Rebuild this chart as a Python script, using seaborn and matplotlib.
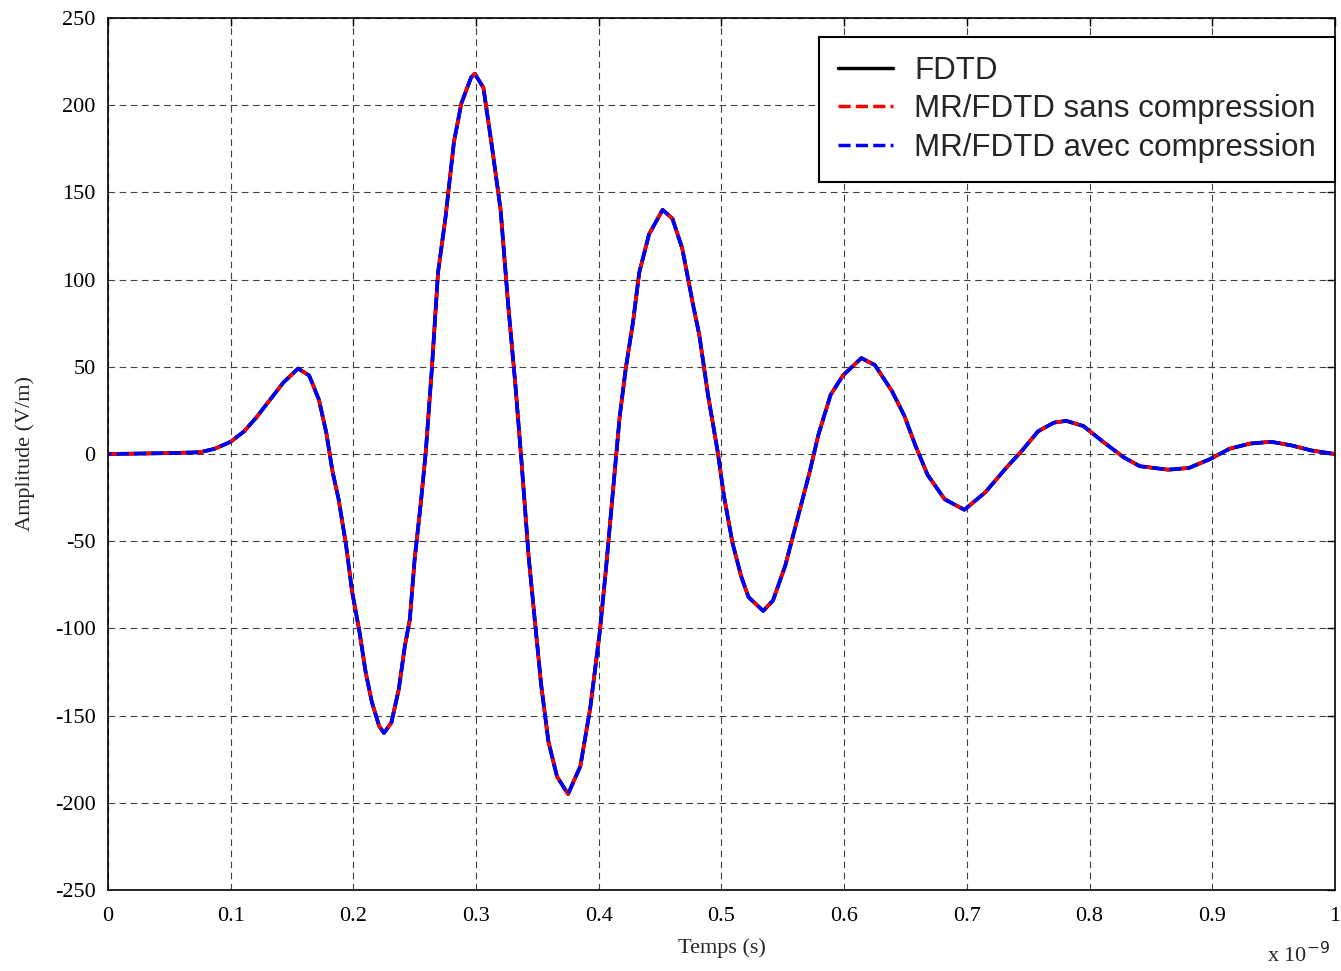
import numpy as np
import pandas as pd
import seaborn as sns
import matplotlib.pyplot as plt
from matplotlib.lines import Line2D

# temps en ns (axe affiché en x 10^-9 s)
temps_ns = [0.0, 0.05, 0.075, 0.087, 0.1, 0.111, 0.121, 0.132, 0.143, 0.155,
            0.164, 0.172, 0.178, 0.183, 0.188, 0.194, 0.199, 0.205, 0.210, 0.215,
            0.221, 0.225, 0.231, 0.237, 0.242, 0.246, 0.250, 0.255, 0.259, 0.264,
            0.269, 0.275, 0.282, 0.288, 0.296, 0.299, 0.306, 0.313, 0.320, 0.326,
            0.332, 0.337, 0.343, 0.348, 0.353, 0.359, 0.366, 0.375, 0.385, 0.393,
            0.401, 0.406, 0.412, 0.417, 0.422, 0.428, 0.433, 0.441, 0.452, 0.460,
            0.468, 0.477, 0.482, 0.489, 0.497, 0.502, 0.509, 0.516, 0.522, 0.534,
            0.542, 0.552, 0.562, 0.572, 0.579, 0.589, 0.599, 0.614, 0.625, 0.639,
            0.649, 0.658, 0.668, 0.682, 0.698, 0.715, 0.732, 0.745, 0.758, 0.771,
            0.781, 0.795, 0.811, 0.828, 0.841, 0.864, 0.881, 0.898, 0.914, 0.931,
            0.948, 0.964, 0.981, 1.0]

amp_fdtd = [0, 0.5, 1, 3, 7, 13, 21, 31, 41, 49,
            45, 31, 12, -10, -26, -52, -79, -102, -125, -142,
            -156, -160, -154, -135, -110, -95, -60, -28, 1, 49,
            104, 135, 179, 201, 216, 218, 210, 176, 140, 87,
            40, -4, -60, -96, -132, -165, -185, -195, -179, -146,
            -101, -65, -18, 21, 49, 76, 104, 126, 140, 135,
            118, 85, 68, 34, 1, -24, -51, -70, -82, -90,
            -84, -64, -37, -10, 11, 34, 45, 55, 51, 36,
            22, 5, -12, -26, -32, -22, -8, 2, 13, 18,
            19, 16, 7, -2, -7, -9, -8, -3, 3, 6,
            7, 5, 2, 0]

# les trois courbes se superposent sur la figure
amp_sans = list(amp_fdtd)
amp_avec = list(amp_fdtd)

labels = ['FDTD', 'MR/FDTD sans compression', 'MR/FDTD avec compression']
colors = ['black', 'red', 'blue']

df = pd.DataFrame({'t': temps_ns, 'fdtd': amp_fdtd, 'sans': amp_sans, 'avec': amp_avec})

sns.set_style('white')
plt.rcParams['font.family'] = ['Liberation Serif', 'DejaVu Serif']
plt.rcParams['axes.unicode_minus'] = False

fig = plt.figure(figsize=(13.41, 9.71), dpi=100)
ax = fig.add_axes([0.0805, 0.0834, 0.9150, 0.8981])

sns.lineplot(data=df, x='t', y='fdtd', ax=ax, color=colors[0], lw=2.7, legend=False)
sns.lineplot(data=df, x='t', y='sans', ax=ax, color=colors[1], lw=2.5,
             linestyle=(0, (3.5, 1.5)), legend=False)
sns.lineplot(data=df, x='t', y='avec', ax=ax, color=colors[2], lw=2.5,
             linestyle=(2.5, (3.5, 1.5)), legend=False)

ax.set_xlim(0, 1)
ax.set_ylim(-250, 250)
ax.set_xticks(np.arange(0, 1.01, 0.1))
ax.set_xticklabels(['0', '0.1', '0.2', '0.3', '0.4', '0.5', '0.6', '0.7', '0.8', '0.9', '1'])
ax.set_yticks(np.arange(-250, 251, 50))
ax.tick_params(direction='in', length=6, width=1, top=True, right=True,
               labelsize=16, colors='black')
ax.tick_params(axis='y', pad=9)
ax.tick_params(axis='x', pad=12)
ax.grid(True, color='0.25', linestyle=(0, (6, 4)), lw=0.8)
for s in ax.spines.values():
    s.set_color('black')
    s.set_linewidth(1.2)

ax.set_xlabel('Temps (s)', fontsize=16, labelpad=9)
ax.set_ylabel('Amplitude (V/m)', fontsize=16, labelpad=14)
fig.text(0.945, 0.004, r'x 10$^{-9}$', fontsize=16, ha='left', va='bottom')

handles = [Line2D([], [], color=colors[0], lw=2.5),
           Line2D([], [], color=colors[1], lw=2.5, linestyle=(0, (3.5, 1.5))),
           Line2D([], [], color=colors[2], lw=2.5, linestyle=(0, (3.5, 1.5)))]
leg = ax.legend(handles, labels, loc='upper right', bbox_to_anchor=(1.0, 0.978),
                borderaxespad=0, fancybox=False, framealpha=1, edgecolor='black',
                prop={'family': 'Liberation Sans', 'size': 22.5},
                handlelength=1.75, handletextpad=0.7, labelspacing=0.27,
                borderpad=0.6)
leg.get_frame().set_linewidth(1.5)

fig.savefig('out.png', dpi=100)
